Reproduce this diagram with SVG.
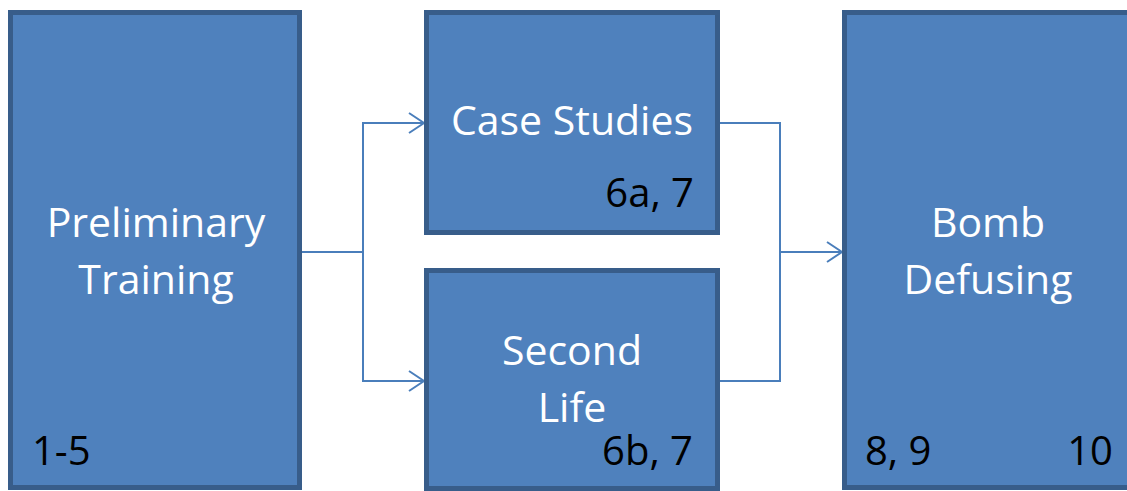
<svg xmlns="http://www.w3.org/2000/svg" width="1127" height="491" viewBox="0 0 1127 491">
<style>
.box{fill:#4F81BD;stroke:#385D8A;stroke-width:5}
.lbl{font-family:"Open Sans","Liberation Sans",sans-serif;font-size:41px;fill:#FFFFFF;text-anchor:middle}
.num{font-family:"Open Sans","Liberation Sans",sans-serif;font-size:40px;fill:#000000}
.conn{fill:none;stroke:#4A7EBB;stroke-width:2}
</style>
<rect width="1127" height="491" fill="#FFFFFF"/>
<g id="connectors">
<polyline class="conn" points="302,252 363,252"/>
<polyline class="conn" points="424,123 363,123 363,381 424,381"/>
<polyline class="conn" points="409,113 424,123 409,133"/>
<polyline class="conn" points="409,371 424,381 409,391"/>
<polyline class="conn" points="720,123 780,123 780,381 720,381"/>
<polyline class="conn" points="780,252 842,252"/>
<polyline class="conn" points="827,242 842,252 827,262"/>
</g>
<g id="preliminary">
<rect class="box" x="10.5" y="12.5" width="289" height="475"/>
<text class="lbl" x="156" y="237">Preliminary</text>
<text class="lbl" x="156" y="294">Training</text>
<text class="num" x="32" y="465">1-5</text>
</g>
<g id="case-studies">
<rect class="box" x="426.5" y="12.5" width="291" height="220"/>
<text class="lbl" x="572" y="135">Case Studies</text>
<text class="num" x="694" y="207" text-anchor="end">6a, 7</text>
</g>
<g id="second-life">
<rect class="box" x="426.5" y="270.5" width="291" height="218"/>
<text class="lbl" x="572" y="365">Second</text>
<text class="lbl" x="572" y="422">Life</text>
<text class="num" x="693" y="465" text-anchor="end">6b, 7</text>
</g>
<g id="bomb-defusing">
<rect class="box" x="844.5" y="12.5" width="300" height="475"/>
<text class="lbl" x="988" y="237">Bomb</text>
<text class="lbl" x="988" y="294">Defusing</text>
<text class="num" x="865" y="465">8, 9</text>
<text class="num" x="1113" y="465" text-anchor="end">10</text>
</g>
</svg>
